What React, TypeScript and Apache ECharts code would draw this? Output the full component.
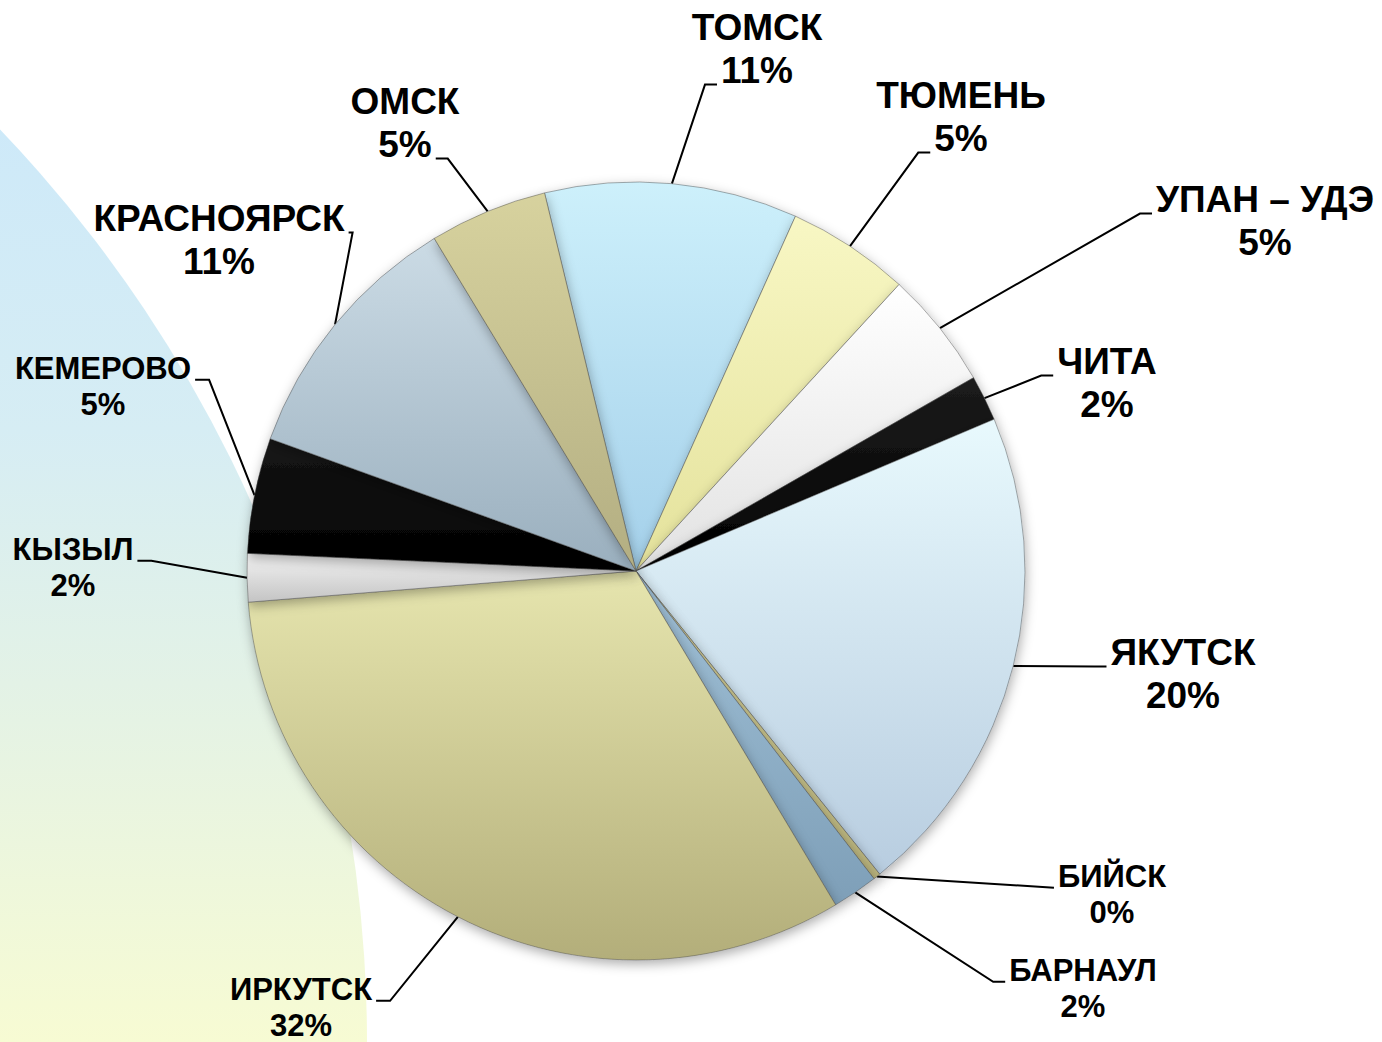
import React, { useEffect, useRef } from "react";
import * as echarts from "echarts";

// ---- Data ----
const cities = [
  "ТОМСК",
  "ТЮМЕНЬ",
  "УПАН – УДЭ",
  "ЧИТА",
  "ЯКУТСК",
  "БИЙСК",
  "БАРНАУЛ",
  "ИРКУТСК",
  "КЫЗЫЛ",
  "КЕМЕРОВО",
  "КРАСНОЯРСК",
  "ОМСК",
];
const shares = [10.5, 5.1, 4.9, 1.9, 20.6, 0.3, 1.9, 32.3, 2.0, 4.8, 10.8, 4.9];
const percentLabels = ["11%", "5%", "5%", "2%", "20%", "0%", "2%", "32%", "2%", "5%", "11%", "5%"];

// ---- Presentation (styles / layout) ----
const sliceColors: [string, string][] = [
  ["#cdf0fb", "#a4d0ea"],
  ["#f8f7c4", "#e4e29c"],
  ["#ffffff", "#e2e2e2"],
  ["#1c1c1c", "#000000"],
  ["#e8f9fd", "#b8cde0"],
  ["#d8d49c", "#b6b07a"],
  ["#a0c0d6", "#7e9fb8"],
  ["#e6e5ae", "#b3ae7a"],
  ["#f4f4f4", "#c4c4c4"],
  ["#161616", "#000000"],
  ["#cbdbe5", "#9aafbe"],
  ["#d7d29e", "#b3ae82"],
];
const labelFontSize = [37, 37, 37, 37, 37, 31, 31, 31, 31, 31, 37, 37];
// [centerX, centerY, side of text the leader line attaches to, line index, elbow length]
const labelPlacement: [number, number, "left" | "right", number, number][] = [
  [757, 49, "left", 1, 12],
  [961, 117, "left", 1, 12],
  [1265, 221, "left", 0, 12],
  [1107, 383, "left", 0, 12],
  [1183, 674, "left", 0, 12],
  [1112, 894, "left", 0, 0],
  [1083, 988, "left", 0, 12],
  [301, 1007, "right", 0, 14],
  [73, 567, "right", 0, 14],
  [103, 386, "right", 0, 14],
  [219, 240, "right", 0, 4],
  [405, 123, "right", 1, 12],
];

const FONT = '"Liberation Sans", Arial, Helvetica, sans-serif';

export default function App() {
  const ref = useRef<HTMLDivElement>(null);

  useEffect(() => {
    if (!ref.current) return;
    const chart = echarts.init(ref.current, null, { renderer: "svg" });
    const ctx = document.createElement("canvas").getContext("2d")!;
    const measure = (t: string, f: number) => {
      ctx.font = `bold ${f}px ${FONT}`;
      return ctx.measureText(t).width;
    };
    const lh = (f: number) => Math.round(f * 1.16);

    const data = cities.map((name, i) => ({
      name,
      value: shares[i],
      itemStyle: {
        color: {
          type: "linear",
          x: 0,
          y: 0,
          x2: 0,
          y2: 1,
          colorStops: [
            { offset: 0, color: sliceColors[i][0] },
            { offset: 1, color: sliceColors[i][1] },
          ],
        },
      },
      label: {
        fontSize: labelFontSize[i],
        lineHeight: lh(labelFontSize[i]),
      },
    }));

    chart.setOption({
      animation: false,
      backgroundColor: "#ffffff",
      graphic: [
        {
          type: "circle",
          z: 0,
          silent: true,
          shape: { cx: -953, cy: 1043, r: 1320 },
          style: {
            fill: {
              type: "linear",
              x: 0,
              y: 100,
              x2: 0,
              y2: 1042,
              global: true,
              colorStops: [
                { offset: 0, color: "#cde9f9" },
                { offset: 0.35, color: "#d6edf4" },
                { offset: 0.62, color: "#e3f2e6" },
                { offset: 1, color: "#f7fbd3" },
              ],
            },
          },
        },
      ],
      series: [
        {
          type: "pie",
          center: [636, 571],
          radius: 389,
          startAngle: 103.6,
          clockwise: true,
          avoidLabelOverlap: false,
          z: 5,
          data,
          emphasis: { disabled: true },
          itemStyle: {
            borderColor: "rgba(70,70,70,0.45)",
            borderWidth: 1,
            shadowBlur: 12,
            shadowColor: "rgba(0,0,0,0.32)",
            shadowOffsetY: 4,
            shadowOffsetX: 1,
          },
          label: {
            show: true,
            position: "outside",
            formatter: (p: any) => `${p.name}\n${percentLabels[p.dataIndex]}`,
            color: "#000",
            fontWeight: "bold",
            fontFamily: FONT,
          },
          labelLine: {
            show: true,
            length: 10,
            length2: 10,
            lineStyle: { color: "#000", width: 2 },
          },
          labelLayout: (p: any) => {
            const i = p.dataIndex;
            const [lx, ly, side, lineIdx, elbow] = labelPlacement[i];
            const F = labelFontSize[i];
            const L = lh(F);
            const text = lineIdx === 0 ? cities[i] : percentLabels[i];
            const w = measure(text, F);
            const lineCenter = ly - L + L / 2 + lineIdx * L;
            const baseY = lineCenter + 0.38 * F;
            const endX = side === "left" ? lx - w / 2 - 4 : lx + w / 2 + 4;
            const elbowX = side === "left" ? endX - elbow : endX + elbow;
            const pts = p.labelLinePoints;
            const start = pts && pts.length ? pts[0] : [lx, ly];
            return {
              x: lx,
              y: ly,
              align: "center",
              verticalAlign: "middle",
              labelLinePoints: [start, [elbowX, baseY], [endX, baseY]],
            };
          },
        },
      ],
    });

    return () => chart.dispose();
  }, []);

  return (
    <div
      ref={ref}
      style={{ position: "absolute", left: 0, top: 0, width: 1382, height: 1042 }}
    />
  );
}
